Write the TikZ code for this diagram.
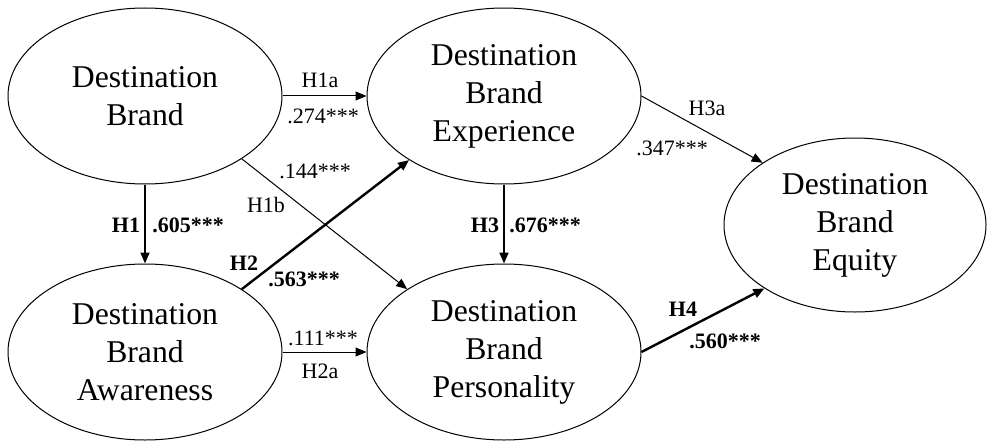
\documentclass[tikz,border=0pt]{standalone}
\usepackage{fontspec}
\setmainfont{Liberation Serif}
\usetikzlibrary{shapes.geometric,arrows.meta}
\begin{document}
\begin{tikzpicture}[x=1pt,y=-1pt,
  construct/.style={ellipse,draw,line width=1pt,minimum width=274pt,minimum height=176pt,
    inner sep=0pt,align=center,font=\fontsize{31.7pt}{38pt}\selectfont},
  link/.style={-{Triangle[length=11pt,width=9pt]},line width=1pt},
  linkmid/.style={link,line width=1.8pt},
  linkbold/.style={link,line width=2.4pt},
  lab/.style={anchor=base,inner sep=0pt,font=\fontsize{22pt}{26pt}\selectfont},
  blab/.style={anchor=base,inner sep=0pt,font=\fontsize{22pt}{26pt}\selectfont\bfseries}
]
\useasboundingbox (0,0) rectangle (987,441);

% constructs
\node[construct] (db)  at (145,96)  {Destination\\Brand};
\node[construct] (dbe) at (504,96)  {Destination\\Brand\\Experience};
\node[construct] (dba) at (145,352) {Destination\\Brand\\Awareness};
\node[construct] (dbp) at (504,352) {Destination\\Brand\\Personality};
\node[construct,minimum width=262pt,minimum height=174pt] (dbq) at (855,225) {Destination\\Brand\\Equity};

% paths
\draw[link]     (db.east)   -- (dbe.west);
\draw[link]     (db.-33)    -- (dbp.147);
\draw[linkmid]  (db.south)  -- (dba.north);
\draw[linkbold] (dba.33)    -- (dbe.-146);
\draw[link]     (dba.east)  -- (dbp.west);
\draw[linkmid]  (dbe.south) -- (dbp.north);
\draw[link]     (dbe.east)  -- (dbq.146);
\draw[linkbold] (dbp.east)  -- (dbq.-145);

% coefficients
\node[lab]  (l1a) at (320,88)  {H1a};
\node[lab]  (c1a) at (323,124) {.274***};
\node[lab]  (c1b) at (315,178) {.144***};
\node[lab]  (l1b) at (266,212) {H1b};
\node[blab] (l1)  at (126,232) {H1};
\node[blab] (c1)  at (188,232) {.605***};
\node[blab] (l3)  at (485,232) {H3};
\node[blab] (c3)  at (545,232) {.676***};
\node[blab] (l2)  at (244,270) {H2};
\node[blab] (c2)  at (304,286) {.563***};
\node[lab]  (c2a) at (323,345) {.111***};
\node[lab]  (l2a) at (320,378) {H2a};
\node[lab]  (l3a) at (707,116) {H3a};
\node[lab]  (c3a) at (672,155) {.347***};
\node[blab] (l4)  at (683,316) {H4};
\node[blab] (c4)  at (725,348) {.560***};
\end{tikzpicture}
\end{document}
